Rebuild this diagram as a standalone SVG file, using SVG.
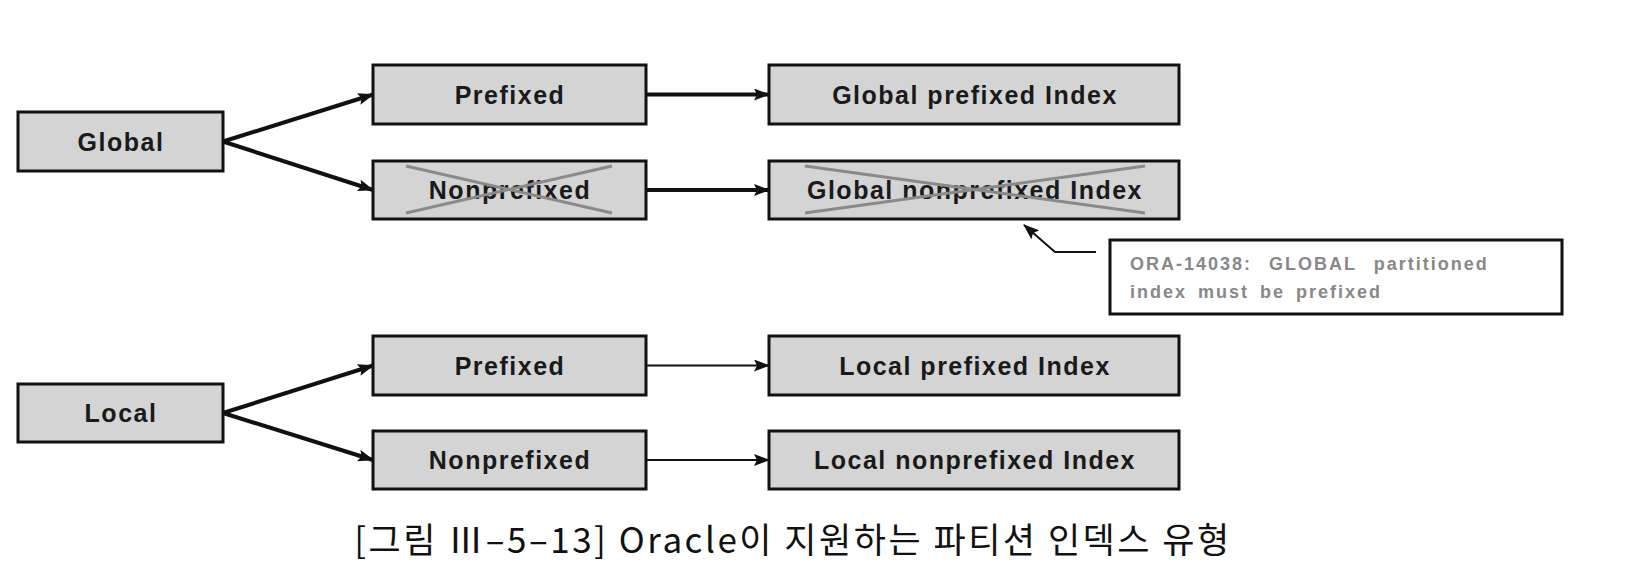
<svg xmlns="http://www.w3.org/2000/svg" width="1646" height="582" viewBox="0 0 1646 582">
<style>
.box{fill:#d4d4d4;stroke:#111;stroke-width:3}
.lbl{font-family:"Liberation Sans",Arial,sans-serif;font-weight:bold;font-size:25px;letter-spacing:1.5px;fill:#1a1a1a;text-anchor:middle}
.cross{stroke:#8a8a8a;stroke-width:3;fill:none}
.thick{stroke:#111;stroke-width:4;fill:none}
.thin{stroke:#111;stroke-width:2;fill:none}
.note{fill:#fff;stroke:#111;stroke-width:3}
.notetxt{font-family:"Liberation Sans",Arial,sans-serif;font-weight:bold;font-size:18px;letter-spacing:2px;fill:#888}
.cap{font-family:"Noto Sans CJK KR","Noto Sans",sans-serif;font-size:35px;letter-spacing:2.5px;fill:#111;text-anchor:middle}
</style>
<defs>
<marker id="ah" markerUnits="userSpaceOnUse" markerWidth="16" markerHeight="12" refX="15" refY="6" orient="auto">
<path d="M0,0 L16,6 L0,12 L3,6 z" fill="#111"/>
</marker>
</defs>
<rect width="1646" height="582" fill="#fff"/>
<g id="connectors">
<line class="thick" x1="223" y1="141.5" x2="373" y2="94.5" marker-end="url(#ah)"/>
<line class="thick" x1="223" y1="141.5" x2="373" y2="190" marker-end="url(#ah)"/>
<line class="thick" x1="646" y1="94.5" x2="769" y2="94.5" marker-end="url(#ah)"/>
<line class="thick" x1="646" y1="190" x2="769" y2="190" marker-end="url(#ah)"/>
<line class="thick" x1="223" y1="413" x2="373" y2="365.5" marker-end="url(#ah)"/>
<line class="thick" x1="223" y1="413" x2="373" y2="460" marker-end="url(#ah)"/>
<line class="thin" x1="646" y1="365.5" x2="769" y2="365.5" marker-end="url(#ah)"/>
<line class="thin" x1="646" y1="460" x2="769" y2="460" marker-end="url(#ah)"/>
<polyline class="thin" points="1096,252 1055,252 1024,225" stroke-width="2.5" marker-end="url(#ah)"/>
</g>
<g id="global"><rect class="box" x="18" y="112" width="205" height="59"/><text class="lbl" x="121" y="150.5">Global</text></g>
<g id="g-prefixed"><rect class="box" x="373" y="65" width="273" height="59"/><text class="lbl" x="510" y="103.5">Prefixed</text></g>
<g id="g-nonprefixed"><rect class="box" x="373" y="161" width="273" height="58"/><text class="lbl" x="510" y="199">Nonprefixed</text>
<line class="cross" x1="406" y1="166" x2="612" y2="213"/><line class="cross" x1="406" y1="213" x2="612" y2="166"/></g>
<g id="gpi"><rect class="box" x="769" y="65" width="410" height="59"/><text class="lbl" x="975" y="103.5">Global prefixed Index</text></g>
<g id="gni"><rect class="box" x="769" y="161" width="410" height="58"/><text class="lbl" x="975" y="199">Global nonprefixed Index</text>
<line class="cross" x1="805" y1="166" x2="1145" y2="213"/><line class="cross" x1="805" y1="213" x2="1145" y2="166"/></g>
<g id="note"><rect class="note" x="1110" y="240" width="452" height="74"/>
<text class="notetxt" x="1130" y="270" word-spacing="10">ORA-14038: GLOBAL partitioned</text>
<text class="notetxt" x="1130" y="298" word-spacing="4">index must be prefixed</text></g>
<g id="local"><rect class="box" x="18" y="384" width="205" height="58"/><text class="lbl" x="121" y="422">Local</text></g>
<g id="l-prefixed"><rect class="box" x="373" y="336" width="273" height="59"/><text class="lbl" x="510" y="374.5">Prefixed</text></g>
<g id="l-nonprefixed"><rect class="box" x="373" y="431" width="273" height="58"/><text class="lbl" x="510" y="469">Nonprefixed</text></g>
<g id="lpi"><rect class="box" x="769" y="336" width="410" height="59"/><text class="lbl" x="975" y="374.5">Local prefixed Index</text></g>
<g id="lni"><rect class="box" x="769" y="431" width="410" height="58"/><text class="lbl" x="975" y="469">Local nonprefixed Index</text></g>
<text class="cap" x="793" y="553">[그림 Ⅲ–5–13] Oracle이 지원하는 파티션 인덱스 유형</text>
</svg>
